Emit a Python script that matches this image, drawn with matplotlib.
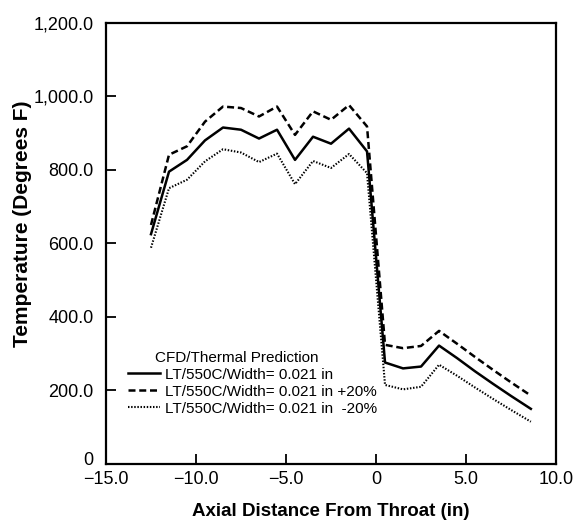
import matplotlib
matplotlib.use("Agg")
import matplotlib.pyplot as plt
import matplotlib.transforms as mtransforms
from matplotlib.ticker import FuncFormatter

plt.rcParams['font.family'] = ['Liberation Sans', 'DejaVu Sans']

# axial position (in) and temperatures (deg F)
x = [-12.5, -11.5, -10.5, -9.5, -8.5, -7.5, -6.5, -5.5, -4.5, -3.5, -2.5, -1.5,
     -0.5, 0.5, 1.5, 2.5, 3.5, 4.5, 5.5, 6.5, 7.5, 8.6]
base = [625, 795, 827, 880, 915, 909, 885, 909, 827, 890, 871, 912,
        850, 276, 260, 265, 322, 288, 252, 218, 185, 150]
plus20 = [650, 841, 864, 931, 972, 968, 945, 972, 895, 959, 936, 976,
          918, 324, 315, 321, 362, 327, 291, 256, 222, 186]
minus20 = [588, 750, 773, 823, 856, 847, 821, 844, 761, 824, 805, 843,
           791, 215, 203, 210, 270, 240, 208, 177, 147, 115]
labels = ["LT/550C/Width= 0.021 in",
          "LT/550C/Width= 0.021 in +20%",
          "LT/550C/Width= 0.021 in  -20%"]

fig = plt.figure(figsize=(5.77, 5.21), dpi=100)
ax = fig.add_axes([0.1837, 0.1094, 0.78, 0.847])

ax.plot(x, base, color='black', lw=1.8, ls='-', label=labels[0])
ax.plot(x, plus20, color='black', lw=1.8, ls=(0, (2.8, 1.5)), label=labels[1])
ax.plot(x, minus20, color='black', lw=1.5, ls=(0, (0.7, 0.8)), label=labels[2])

ax.set_xlim(-15, 10)
ax.set_ylim(0, 1200)
ax.set_xticks([-15, -10, -5, 0, 5, 10])
ax.set_yticks([0, 200, 400, 600, 800, 1000, 1200])


def xfmt(v, pos):
    if v == 0:
        return "0"
    return f"{v:.1f}".replace("-", "\u2212")


def yfmt(v, pos):
    if v == 0:
        return "0"
    return f"{v:,.1f}"


ax.xaxis.set_major_formatter(FuncFormatter(xfmt))
ax.yaxis.set_major_formatter(FuncFormatter(yfmt))
ax.tick_params(direction='in', length=7, width=1.3, labelsize=13)
ax.tick_params(axis='x', pad=5)
ax.tick_params(axis='y', pad=9)
for s in ax.spines.values():
    s.set_linewidth(1.6)

ax.set_xlabel("Axial Distance From Throat (in)", fontsize=13.5, fontweight='bold', labelpad=11)
ax.set_ylabel("Temperature (Degrees F)", fontsize=15, fontweight='bold')
ax.yaxis.set_label_coords(-0.164, 0.544)

# nudge the y "0" label up so it clears the "-15.0" label below it
fig.canvas.draw()
ylab0 = ax.yaxis.get_major_ticks()[0].label1
ylab0.set_transform(ylab0.get_transform() + mtransforms.ScaledTranslation(0, 4 / 72, fig.dpi_scale_trans))

leg = ax.legend(title="CFD/Thermal Prediction", loc='lower left',
                bbox_to_anchor=(0.025, 0.085), frameon=False, fontsize=11,
                title_fontsize=11, handlelength=2.1, handletextpad=0.3,
                labelspacing=0.2, borderpad=0.2)
leg._legend_box.align = "left"
leg.get_title().set_position((27, 0))

fig.savefig("out.png", dpi=100)
